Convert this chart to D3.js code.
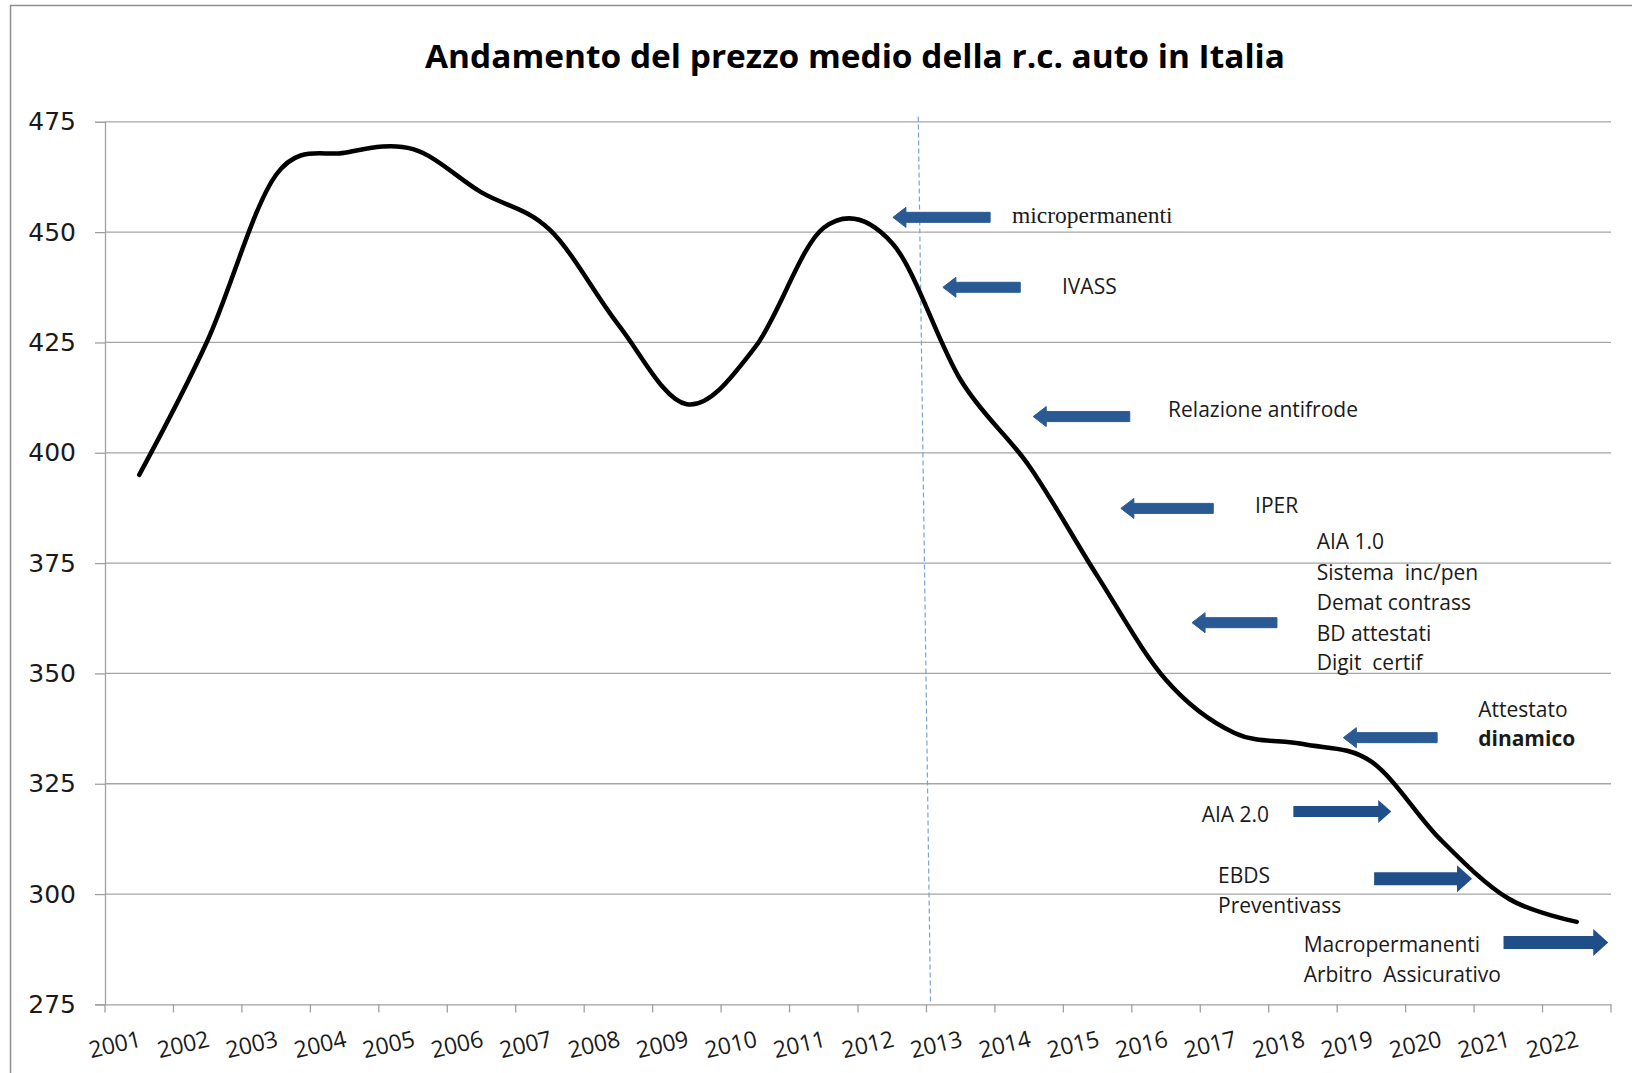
<!DOCTYPE html>
<html><head><meta charset="utf-8">
<script src="https://cdn.jsdelivr.net/npm/d3@7"></script>
<style>
html,body{margin:0;padding:0;background:#fff;}
svg{display:block;}
</style></head>
<body>
<svg id="chart" width="1632" height="1073"></svg>
<script>
// ---- data ----
const years = ["2001","2002","2003","2004","2005","2006","2007","2008","2009","2010","2011",
               "2012","2013","2014","2015","2016","2017","2018","2019","2020","2021","2022"];
const prices = [395, 425.5, 463, 468, 468.8, 459, 450.5, 429, 411, 424, 451,
                447.5, 416.5, 397, 372, 348.5, 336.5, 334, 330, 312.5, 299, 293.7];
const yTicks = [275, 300, 325, 350, 375, 400, 425, 450, 475];
const title = "Andamento del prezzo medio della r.c. auto in Italia";

// annotations: positions in category-index units (x) and value units (y)
const arrowsLeft = [
  {from: 12.93, to: 11.51, v: 453.35},
  {from: 13.37, to: 12.24, v: 437.5},
  {from: 14.97, to: 13.56, v: 408.2},
  {from: 16.19, to: 14.84, v: 387.4},
  {from: 17.12, to: 15.88, v: 361.5},
  {from: 19.46, to: 18.09, v: 335.45}
];
const arrowsRight = [
  {from: 17.36, to: 18.79, v: 318.7},
  {from: 18.54, to: 19.97, v: 303.5},
  {from: 20.43, to: 21.96, v: 289.0}
];
const notes = [
  {x: 13.25, lines: [{t: "micropermanenti", v: 452.1}], serif: true},
  {x: 13.98, lines: [{t: "IVASS", v: 436.0}]},
  {x: 15.53, lines: [{t: "Relazione antifrode", v: 408.1}]},
  {x: 16.80, lines: [{t: "IPER", v: 386.4}]},
  {x: 17.70, lines: [{t: "AIA 1.0", v: 378.1}, {t: "Sistema  inc/pen", v: 371.1}, {t: "Demat contrass", v: 364.3},
                     {t: "BD attestati", v: 357.4}, {t: "Digit  certif", v: 350.7}]},
  {x: 20.06, lines: [{t: "Attestato", v: 340.2}, {t: "dinamico", v: 333.5, bold: true}]},
  {x: 16.02, lines: [{t: "AIA 2.0", v: 316.4}]},
  {x: 16.26, lines: [{t: "EBDS", v: 302.4}, {t: "Preventivass", v: 295.6}]},
  {x: 17.51, lines: [{t: "Macropermanenti", v: 286.9}, {t: "Arbitro  Assicurativo", v: 280.1}]}
];
const marker = {top: {i: 11.88, v: 476.2}, bottom: {i: 12.06, v: 275}};

// ---- layout ----
const L = 105, R = 1611, T = 121.8, B = 1004.4;
const svg = d3.select("#chart");

// outer frame
svg.append("rect").attr("x", 10.5).attr("y", 5.5).attr("width", 1700).attr("height", 1200)
  .attr("fill", "none").attr("stroke", "#8e8e8e").attr("stroke-width", 1.5);

const x = d3.scaleBand().domain(years).range([L, R]).paddingInner(0).paddingOuter(0);
const xi = d3.scaleLinear().domain([0, years.length]).range([L, R]);
const y = d3.scaleLinear().domain([275, 475]).range([B, T]);

// gridlines
svg.append("g").selectAll("line").data(yTicks.filter(d => d !== 275)).join("line")
  .attr("x1", L).attr("x2", R).attr("y1", d => y(d)).attr("y2", d => y(d))
  .attr("stroke", "#a5a5a5").attr("stroke-width", 1.3);

// y axis
const yAxis = d3.axisLeft(y).tickValues(yTicks).tickSize(10).tickPadding(19);
const gy = svg.append("g").attr("transform", `translate(${L},0)`).call(yAxis);
gy.select(".domain").attr("stroke", "#a0a0a0").attr("stroke-width", 1.3);
gy.selectAll(".tick line").attr("stroke", "#a0a0a0").attr("stroke-width", 1.3);
gy.selectAll(".tick text").attr("font-family", "DejaVu Sans").attr("font-size", 25)
  .attr("fill", "#1a1a1a");

// x axis (ticks are placed at band centres by d3)
const xAxis = d3.axisBottom(x).tickSize(0).tickFormat(d => d);
const gx = svg.append("g").attr("transform", `translate(0,${B})`).call(xAxis);
gx.select(".domain").attr("stroke", "#a0a0a0").attr("stroke-width", 1.3);
gx.selectAll(".tick text")
  .attr("font-family", "Open Sans").attr("font-size", 23).attr("fill", "#1a1a1a")
  .attr("text-anchor", "end").attr("y", 0).attr("dy", 0)
  .attr("transform", `translate(3,42) rotate(-13)`);
// boundary ticks
gx.append("g").selectAll("line").data(d3.range(years.length + 1)).join("line")
  .attr("x1", d => xi(d)).attr("x2", d => xi(d)).attr("y1", 0).attr("y2", 8)
  .attr("stroke", "#a0a0a0").attr("stroke-width", 1.3);

// dashed marker
svg.append("line")
  .attr("x1", xi(marker.top.i)).attr("y1", y(marker.top.v))
  .attr("x2", xi(marker.bottom.i)).attr("y2", y(marker.bottom.v))
  .attr("stroke", "#7aa3da").attr("stroke-width", 1.2).attr("stroke-dasharray", "5,3");

// price line
const line = d3.line()
  .x((d, i) => x(years[i]) + x.bandwidth() / 2)
  .y(d => y(d))
  .curve(d3.curveCardinal.tension(0));
svg.append("path").datum(prices).attr("d", line)
  .attr("fill", "none").attr("stroke", "#000").attr("stroke-width", 4.5)
  .attr("stroke-linecap", "round").attr("stroke-linejoin", "round");

// arrows
function arrowPath(x1, x2, yy, s, h, hl) {
  const d = Math.sign(x2 - x1), b = x2 - d * hl;
  return `M${x1},${yy - s/2}L${b},${yy - s/2}L${b},${yy - h/2}L${x2},${yy}L${b},${yy + h/2}L${b},${yy + s/2}L${x1},${yy + s/2}Z`;
}
svg.append("g").selectAll("path").data(arrowsLeft).join("path")
  .attr("d", d => arrowPath(xi(d.from), xi(d.to), y(d.v), 10, 20, 13))
  .attr("fill", "#2a5a94").attr("stroke", "#2a5a94").attr("stroke-width", 1).attr("stroke-linejoin", "round");
svg.append("g").selectAll("path").data(arrowsRight).join("path")
  .attr("d", (d, i) => arrowPath(xi(d.from), xi(d.to), y(d.v), i === 0 ? 11 : 13, i === 0 ? 23 : 27, i === 0 ? 13 : 15))
  .attr("fill", "#1f4e89");

// notes
const ng = svg.append("g");
notes.forEach(n => {
  n.lines.forEach(l => {
    ng.append("text").attr("x", xi(n.x)).attr("y", y(l.v))
      .attr("font-family", n.serif ? "Liberation Serif" : "Open Sans")
      .attr("font-size", n.serif ? 23.5 : 21)
      .attr("font-weight", l.bold ? "bold" : "normal")
      .attr("fill", "#1a1a1a").attr("xml:space", "preserve")
      .style("white-space", "pre")
      .text(l.t);
  });
});

// title
svg.append("text").attr("x", 855).attr("y", 68).attr("text-anchor", "middle")
  .attr("font-family", "Open Sans").attr("font-weight", "bold").attr("font-size", 32)
  .attr("textLength", 860).attr("lengthAdjust", "spacingAndGlyphs")
  .attr("fill", "#000").text(title);
</script>
</body></html>
